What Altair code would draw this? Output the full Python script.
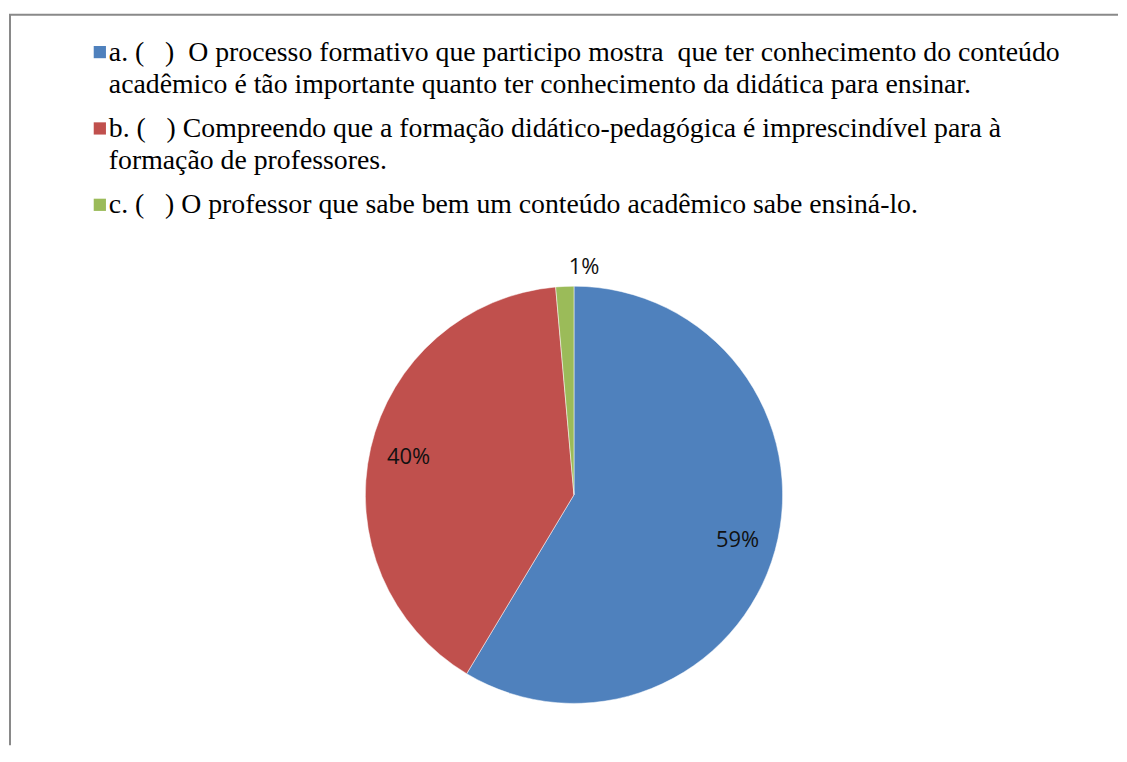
import altair as alt
import pandas as pd

# ---- data ----
categories = ["a", "b", "c"]
legend_texts = [
    "a.\u00a0(\u00a0\u00a0\u00a0)\u00a0\u00a0O processo formativo que participo mostra\u00a0\u00a0que ter conhecimento do conteúdo\nacadêmico é tão importante quanto ter conhecimento da didática para ensinar.",
    "b.\u00a0(\u00a0\u00a0\u00a0)\u00a0Compreendo que a formação didático-pedagógica é imprescindível para à\nformação de professores.",
    "c.\u00a0(\u00a0\u00a0\u00a0)\u00a0O professor que sabe bem um conteúdo acadêmico sabe ensiná-lo.",
]
values = [58.6, 40.0, 1.4]          # percent
order_idx = [0, 1, 2]
colors = ["#4F81BD", "#C0504D", "#9BBB59"]

W, H = 1111, 738
CX, CY, R = 566, 487, 209
SERIF = "Liberation Serif, Times New Roman, serif"

df = pd.DataFrame({"cat": categories, "value": values, "label": legend_texts, "ord": order_idx})
base = alt.Chart(df)

color_enc = alt.Color("cat:N", scale=alt.Scale(domain=categories, range=colors), legend=None)

pie = base.mark_arc(outerRadius=R, stroke="white", strokeWidth=0.5).encode(
    theta=alt.Theta("value:Q", stack=True),
    color=color_enc,
    order=alt.Order("ord:Q"),
    x=alt.value(CX),
    y=alt.value(CY),
)

labels = base.transform_calculate(
    pct="format(datum.value, '.0f') + '%'",
    rad="datum.value < 5 ? 228 : 170",
).mark_text(font="Open Sans", fontSize=22, color="#111111").encode(
    theta=alt.Theta("value:Q", stack=True),
    radius=alt.Radius("rad:Q", scale=None),
    text="pct:N",
    order=alt.Order("ord:Q"),
    x=alt.value(CX),
    y=alt.value(CY),
)

leg_y = alt.Y("cat:N", scale=alt.Scale(type="point", domain=categories, range=[43.5, 196.5], padding=0), axis=None)

squares = base.mark_square(size=150, opacity=1).encode(
    x=alt.value(91), y=leg_y, color=color_enc
)

texts = base.mark_text(
    align="left", baseline="top", dy=-13.5, font=SERIF,
    fontSize=27.8, lineHeight=32, lineBreak="\n", color="black",
).encode(x=alt.value(100), y=leg_y, text="label:N")

frame_df = pd.DataFrame({"k": [0]})
top_rule = alt.Chart(frame_df).mark_rule(color="#898989", strokeWidth=2).encode(
    x=alt.value(0), x2=alt.value(W), y=alt.value(6)
)
left_rule = alt.Chart(frame_df).mark_rule(color="#898989", strokeWidth=2).encode(
    x=alt.value(1), y=alt.value(6), y2=alt.value(H)
)

chart = alt.layer(top_rule, left_rule, pie, labels, squares, texts).properties(
    width=W, height=H, padding=0
).configure_view(stroke=None)

chart.save("out.html", embed_options={"renderer": "svg", "actions": False})
